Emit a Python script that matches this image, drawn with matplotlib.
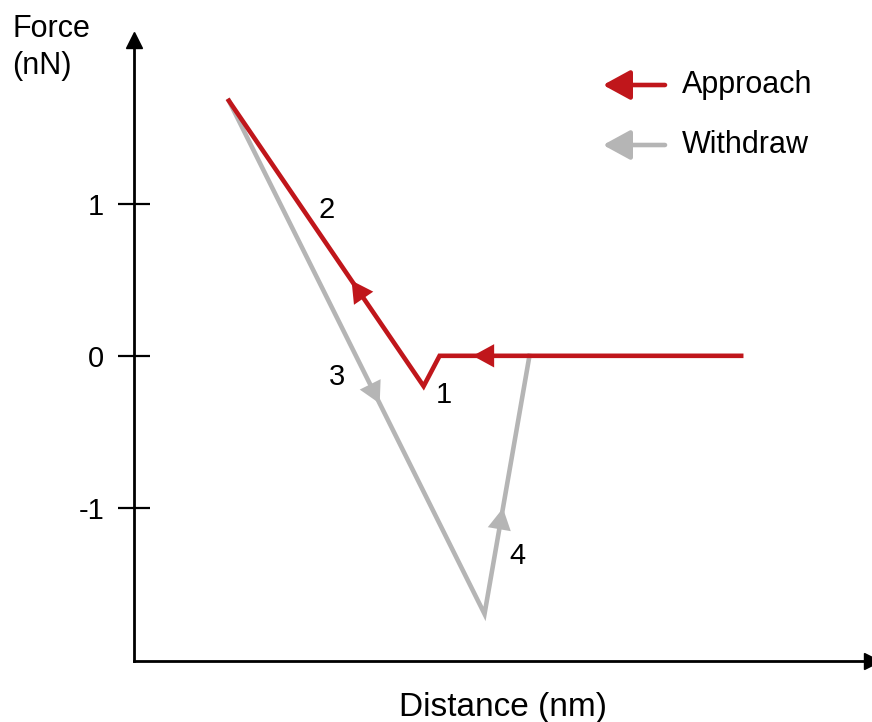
import matplotlib.pyplot as plt
from matplotlib.patches import FancyArrowPatch

plt.rcParams['font.family'] = ['Liberation Sans', 'DejaVu Sans']

# ----- data (distance in arbitrary units, force in nN) ----- #
approach_x = [6.07, 3.05, 2.89, 0.94]
approach_y = [0.0, 0.0, -0.20, 1.68]
withdraw_x = [0.94, 3.50, 3.95]
withdraw_y = [1.68, -1.70, 0.0]

# arrowheads along the curves: (segment index, fraction along segment)
approach_arrows = [(0, 0.89), (2, 0.37)]
withdraw_arrows = [(0, 0.59), (1, 0.41)]

step_labels = ['1', '2', '3', '4']
step_x = [3.09, 1.92, 2.02, 3.83]
step_y = [-0.26, 0.96, -0.14, -1.32]

y_ticks = [1, 0, -1]

RED = '#c0161b'
GREY = '#b5b5b5'
FS = 21


def add_arrows(ax, xs, ys, arrows, color):
    """Filled arrowheads placed part way along given segments"""
    for seg, frac in arrows:
        x0, y0 = xs[seg], ys[seg]
        x1, y1 = xs[seg + 1], ys[seg + 1]
        tx, ty = x0 + frac * (x1 - x0), y0 + frac * (y1 - y0)
        bx, by = x0 + (frac - 0.05) * (x1 - x0), y0 + (frac - 0.05) * (y1 - y0)
        ax.annotate('', xy=(tx, ty), xytext=(bx, by),
                    arrowprops=dict(arrowstyle='-|>,head_length=0.55,head_width=0.3',
                                    color=color, lw=0,
                                    mutation_scale=28, shrinkA=0, shrinkB=0))


fig = plt.figure(figsize=(8.72, 7.22), dpi=100)
ax = fig.add_axes([134 / 872, 61 / 722, (872 - 134) / 872, (661 - 40) / 722])
ax.set_xlim(-0.01, 7.38)
ax.set_ylim(-2.01, 2.08)

ax.plot(withdraw_x, withdraw_y, color=GREY, lw=3.3, solid_joinstyle='miter', zorder=2)
ax.plot(approach_x, approach_y, color=RED, lw=3.3, solid_joinstyle='miter', zorder=3)
add_arrows(ax, withdraw_x, withdraw_y, withdraw_arrows, GREY)
add_arrows(ax, approach_x, approach_y, approach_arrows, RED)

for lab, x, y in zip(step_labels, step_x, step_y):
    ax.text(x, y, lab, fontsize=FS, ha='center', va='center')

# axes with arrowheads
for s in ['top', 'right']:
    ax.spines[s].set_visible(False)
ax.spines['left'].set_linewidth(2)
ax.spines['bottom'].set_linewidth(2)
ax.plot(0, 1, '^k', markersize=11, transform=ax.transAxes, clip_on=False)
ax.plot(1, 0, '>k', markersize=11, transform=ax.transAxes, clip_on=False)

ax.set_xticks([])
ax.set_yticks(y_ticks)
ax.set_yticklabels([str(t) for t in y_ticks], fontsize=FS)
ax.tick_params(axis='y', direction='inout', length=23, width=1.6, pad=10)

ax.set_xlabel('Distance (nm)', fontsize=24, labelpad=22)
fig.text(12 / 872, 1 - 37 / 722, 'Force', fontsize=22, ha='left', va='baseline')
fig.text(12 / 872, 1 - 74 / 722, '(nN)', fontsize=22, ha='left', va='baseline')

# legend drawn by hand
legend_items = [('Approach', RED), ('Withdraw', GREY)]
for i, (name, col) in enumerate(legend_items):
    yy = 1 - (85 + 60 * i) / 722
    fig.patches.append(FancyArrowPatch(
        (665 / 872, yy), (603 / 872, yy), transform=fig.transFigure,
        arrowstyle='-|>,head_length=0.55,head_width=0.3', mutation_scale=30,
        color=col, lw=3.3, shrinkA=0, shrinkB=0))
    fig.text(682 / 872, yy, name, fontsize=22, ha='left', va='center')

fig.savefig('out.png', dpi=100)
